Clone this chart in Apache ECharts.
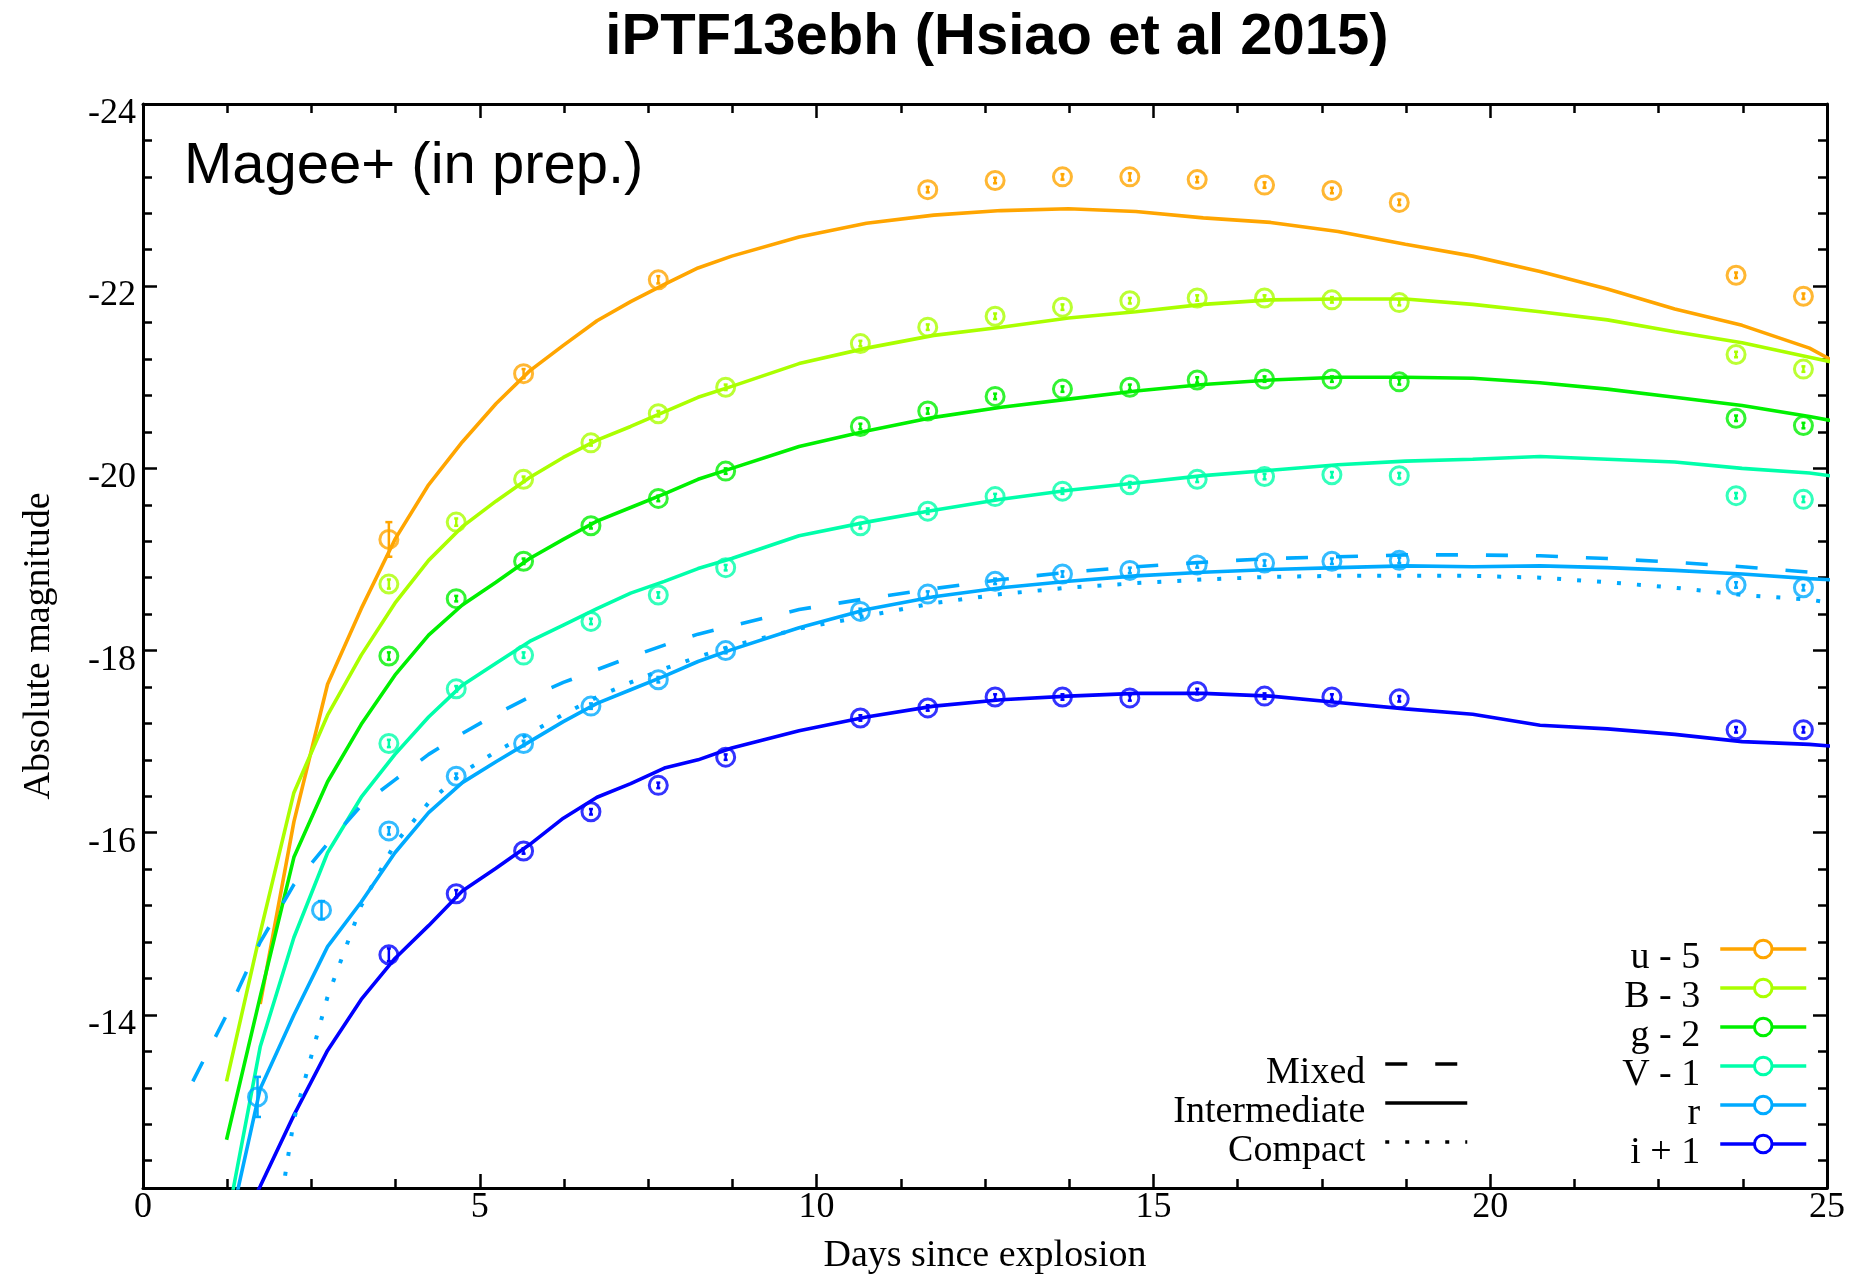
<!DOCTYPE html>
<html>
<head>
<meta charset="utf-8">
<title>iPTF13ebh light curves</title>
<script src="https://cdn.jsdelivr.net/npm/echarts@6/dist/echarts.min.js"></script>
<style>
  html, body { margin: 0; padding: 0; background: #ffffff; }
  #chart { width: 1853px; height: 1280px; }
</style>
</head>
<body>
<div id="chart"></div>
<script>
// ---- Observed photometry (days since explosion, offset absolute magnitudes) ----
const obsDays = [1.7, 2.65, 3.65, 4.65, 5.65, 6.65, 7.65, 8.65, 10.65, 11.65, 12.65, 13.65, 14.65, 15.65, 16.65, 17.65, 18.65, 23.65, 24.65];

const uObs = [null, null, -19.22, null, -21.04, null, -22.07, null, null, -23.06, -23.16, -23.20, -23.20, -23.17, -23.11, -23.05, -22.92, -22.12, -21.89];
const BObs = [null, null, -18.73, -19.41, -19.88, -20.28, -20.60, -20.89, -21.37, -21.55, -21.67, -21.77, -21.84, -21.87, -21.87, -21.85, -21.82, -21.25, -21.09];
const gObs = [null, null, -17.94, -18.57, -18.98, -19.37, -19.67, -19.97, -20.46, -20.63, -20.79, -20.87, -20.89, -20.97, -20.98, -20.98, -20.95, -20.55, -20.47];
const VObs = [null, null, -16.98, -17.58, -17.95, -18.32, -18.61, -18.91, -19.37, -19.53, -19.69, -19.75, -19.82, -19.88, -19.91, -19.93, -19.92, -19.70, -19.66];
const rObs = [-13.10, -15.15, -16.02, -16.62, -16.98, -17.39, -17.68, -18.00, -18.43, -18.62, -18.76, -18.84, -18.88, -18.94, -18.96, -18.98, -18.99, -18.72, -18.69];
const iObs = [null, null, -14.66, -15.33, -15.80, -16.23, -16.52, -16.83, -17.26, -17.37, -17.49, -17.49, -17.48, -17.55, -17.50, -17.49, -17.47, -17.13, -17.13];

// 1-sigma uncertainties for the points above
const uErr = [null, null, 0.19, null, 0.05, null, 0.04, null, null, 0.03, 0.03, 0.03, 0.04, 0.03, 0.03, 0.03, 0.03, 0.03, 0.03];
const BErr = [null, null, 0.05, 0.04, 0.03, 0.03, 0.03, 0.03, 0.03, 0.03, 0.03, 0.03, 0.03, 0.03, 0.03, 0.03, 0.03, 0.03, 0.03];
const gErr = [null, null, 0.04, 0.03, 0.03, 0.03, 0.03, 0.03, 0.03, 0.03, 0.03, 0.03, 0.03, 0.03, 0.03, 0.03, 0.03, 0.03, 0.03];
const VErr = [null, null, 0.04, 0.03, 0.03, 0.03, 0.03, 0.03, 0.03, 0.03, 0.03, 0.03, 0.03, 0.03, 0.03, 0.03, 0.03, 0.03, 0.03];
const rErr = [0.22, 0.10, 0.04, 0.03, 0.03, 0.03, 0.03, 0.03, 0.03, 0.03, 0.03, 0.03, 0.03, 0.03, 0.03, 0.03, 0.03, 0.03, 0.03];
const iErr = [null, null, 0.07, 0.04, 0.03, 0.03, 0.03, 0.03, 0.03, 0.03, 0.03, 0.03, 0.03, 0.03, 0.03, 0.03, 0.03, 0.03, 0.03];

// ---- Model light curves ----
const modelDays = [0.74, 1.24, 1.74, 2.24, 2.74, 3.24, 3.74, 4.24, 4.74, 5.24, 5.74, 6.24, 6.74, 7.24, 7.74, 8.24, 8.74, 9.74, 10.74, 11.74, 12.74, 13.74, 14.74, 15.74, 16.74, 17.74, 18.74, 19.74, 20.74, 21.74, 22.74, 23.74, 24.74, 25.24];

// intermediate Ni distribution, all bands
const uModel = [null, null, -14.12, -16.12, -17.63, -18.46, -19.22, -19.82, -20.29, -20.71, -21.07, -21.35, -21.62, -21.83, -22.02, -22.20, -22.33, -22.54, -22.69, -22.78, -22.83, -22.85, -22.82, -22.75, -22.70, -22.60, -22.46, -22.33, -22.16, -21.97, -21.75, -21.57, -21.32, -21.12];
const BModel = [null, -13.27, -14.90, -16.44, -17.29, -17.95, -18.52, -18.99, -19.36, -19.64, -19.90, -20.12, -20.31, -20.46, -20.62, -20.78, -20.90, -21.15, -21.32, -21.46, -21.55, -21.65, -21.72, -21.80, -21.85, -21.86, -21.86, -21.80, -21.72, -21.63, -21.50, -21.38, -21.22, -21.14];
const gModel = [null, -12.63, -14.20, -15.73, -16.56, -17.19, -17.73, -18.17, -18.50, -18.75, -19.01, -19.22, -19.42, -19.57, -19.72, -19.88, -20.00, -20.24, -20.41, -20.56, -20.67, -20.76, -20.85, -20.92, -20.97, -21.00, -21.00, -20.99, -20.94, -20.87, -20.78, -20.69, -20.57, -20.50];
const VModel = [null, -11.70, -13.65, -14.85, -15.78, -16.39, -16.86, -17.27, -17.62, -17.86, -18.10, -18.28, -18.46, -18.63, -18.76, -18.90, -19.01, -19.26, -19.41, -19.54, -19.66, -19.76, -19.84, -19.92, -19.98, -20.04, -20.08, -20.10, -20.13, -20.10, -20.07, -20.00, -19.95, -19.90];
const rModel = [null, -11.52, -13.19, -14.00, -14.75, -15.24, -15.78, -16.22, -16.55, -16.78, -17.00, -17.22, -17.42, -17.57, -17.72, -17.88, -18.01, -18.25, -18.45, -18.59, -18.69, -18.76, -18.82, -18.86, -18.89, -18.91, -18.93, -18.92, -18.93, -18.91, -18.88, -18.84, -18.79, -18.77];
const iModel = [null, -11.35, -12.12, -12.90, -13.61, -14.17, -14.62, -14.98, -15.36, -15.61, -15.87, -16.16, -16.39, -16.54, -16.71, -16.80, -16.93, -17.12, -17.27, -17.39, -17.46, -17.50, -17.53, -17.53, -17.50, -17.43, -17.36, -17.30, -17.18, -17.14, -17.08, -17.00, -16.97, -16.94];

// r band for the mixed and compact Ni distributions
const rMixed   = [-13.27, -14.00, -14.80, -15.43, -15.88, -16.30, -16.58, -16.86, -17.09, -17.30, -17.49, -17.65, -17.79, -17.93, -18.06, -18.18, -18.27, -18.45, -18.57, -18.68, -18.78, -18.86, -18.92, -18.97, -19.01, -19.03, -19.05, -19.05, -19.04, -19.01, -18.97, -18.92, -18.86, -18.82];
const rCompact = [null, null, -10.50, -12.85, -14.20, -15.20, -15.88, -16.33, -16.66, -16.89, -17.09, -17.30, -17.49, -17.65, -17.80, -17.93, -18.05, -18.24, -18.38, -18.52, -18.62, -18.69, -18.74, -18.78, -18.81, -18.82, -18.82, -18.82, -18.80, -18.75, -18.69, -18.61, -18.56, -18.50];

// ---- Axis ticks ----
const xTickStep = 5;
const yTickStep = 2;
const yMinorStep = 0.4;

// ---- Styling ----
const SERIF = "'Liberation Serif', 'Times New Roman', Times, serif";
const SANS = "'Liberation Sans', Arial, Helvetica, sans-serif";

const bands = [
  { name: 'u - 5', color: '#FFA500', model: uModel, obs: uObs, err: uErr },
  { name: 'B - 3', color: '#AAFF00', model: BModel, obs: BObs, err: BErr },
  { name: 'g - 2', color: '#00F000', model: gModel, obs: gObs, err: gErr },
  { name: 'V - 1', color: '#00FFAA', model: VModel, obs: VObs, err: VErr },
  { name: 'r',     color: '#00AAFF', model: rModel, obs: rObs, err: rErr },
  { name: 'i + 1', color: '#0000FF', model: iModel, obs: iObs, err: iErr }
];
const rColor = '#00AAFF';

function pairs(xs, ys) {
  return xs.map((x, k) => [x, ys[k]]).filter(p => p[1] != null);
}
function triples(xs, ys, es) {
  return xs.map((x, k) => [x, ys[k], es[k]]).filter(p => p[1] != null);
}

// vertical error bar with small end caps
function renderErrorBar(params, api) {
  const x = api.value(0), y = api.value(1), e = api.value(2);
  const a = api.coord([x, y - e]);
  const b = api.coord([x, y + e]);
  const c = api.visual('color');
  const cap = e > 0.08 ? 3.5 : 2;
  const st = { stroke: c, lineWidth: 2.5 };
  return {
    type: 'group',
    children: [
      { type: 'line', shape: { x1: a[0], y1: a[1], x2: b[0], y2: b[1] }, style: st },
      { type: 'line', shape: { x1: a[0] - cap, y1: a[1], x2: a[0] + cap, y2: a[1] }, style: st },
      { type: 'line', shape: { x1: b[0] - cap, y1: b[1], x2: b[0] + cap, y2: b[1] }, style: st }
    ]
  };
}

const series = [];
// model curves first so the legend picks up their line icons
bands.forEach(b => {
  series.push({
    name: b.name, type: 'line', data: pairs(modelDays, b.model),
    symbol: 'circle', showSymbol: false, clip: true, z: 2, silent: true,
    itemStyle: { color: b.color },
    lineStyle: { color: b.color, width: 3.6 }
  });
});
series.push({
  name: 'Mixed', type: 'line', data: pairs(modelDays, rMixed),
  symbol: 'none', showSymbol: false, clip: true, z: 2, silent: true,
  itemStyle: { color: rColor },
  lineStyle: { color: rColor, width: 3.6, type: [22, 28] }
});
series.push({
  name: 'Compact', type: 'line', data: pairs(modelDays, rCompact),
  symbol: 'none', showSymbol: false, clip: true, z: 2, silent: true,
  itemStyle: { color: rColor },
  lineStyle: { color: rColor, width: 4, type: [4, 16] }
});
series.push({
  name: 'Intermediate', type: 'line', data: [],
  symbol: 'none', showSymbol: false, silent: true,
  itemStyle: { color: '#000' },
  lineStyle: { color: '#000', width: 3.5 }
});
bands.forEach(b => {
  series.push({
    name: b.name, type: 'custom', data: triples(obsDays, b.obs, b.err),
    renderItem: renderErrorBar, z: 3, silent: true,
    itemStyle: { color: b.color }
  });
  series.push({
    name: b.name, type: 'scatter', data: pairs(obsDays, b.obs),
    symbol: 'circle', symbolSize: 18, z: 4, silent: true,
    itemStyle: { color: 'rgba(0,0,0,0)', borderColor: b.color, borderWidth: 3 }
  });
});

const axisLineStyle = { show: true, onZero: false, lineStyle: { color: '#000', width: 3 } };
const majorTick = { show: true, inside: true, length: 14, lineStyle: { color: '#000', width: 2.5 } };
const minorTickStyle = { show: true, inside: true, length: 9, lineStyle: { color: '#000', width: 2.5 } };

// rich text so the top padding drops each label slightly below its key
const legendText = {
  fontFamily: SERIF, fontSize: 38, color: '#000',
  lineHeight: 22, padding: [18, 15, 0, 0],
  rich: { t: { fontFamily: SERIF, fontSize: 38, color: '#000', lineHeight: 22 } }
};

const option = {
  animation: false,
  backgroundColor: '#ffffff',
  title: [
    {
      text: 'iPTF13ebh (Hsiao et al 2015)',
      left: 997, top: 9, textAlign: 'center', padding: 0,
      textStyle: { fontFamily: SANS, fontSize: 58, fontWeight: 'bold', color: '#000', lineHeight: 58 }
    },
    {
      text: 'Magee+ (in prep.)',
      left: 184, top: 138, padding: 0,
      textStyle: { fontFamily: SANS, fontSize: 58, fontWeight: 'normal', color: '#000', lineHeight: 58 }
    }
  ],
  grid: { left: 143, right: 26, top: 104, bottom: 85, containLabel: false },
  legend: [
    {
      orient: 'vertical', align: 'right', right: 45, top: 929, padding: 0,
      itemWidth: 86, itemHeight: 22, itemGap: -9,
      formatter: '{t|{name}}',
      data: bands.map(b => ({ name: b.name, itemStyle: { color: '#ffffff', borderColor: b.color, borderWidth: 3 } })),
      textStyle: legendText,
      lineStyle: { width: 3.5 }
    },
    {
      orient: 'vertical', align: 'right', right: 384, top: 1044, padding: 0,
      itemWidth: 82, itemHeight: 22, itemGap: -9,
      formatter: '{t|{name}}',
      data: ['Mixed', 'Intermediate', 'Compact'].map(n => ({ name: n, itemStyle: { opacity: 0 }, lineStyle: { color: '#000' } })),
      textStyle: legendText,
      lineStyle: { width: 3.5 }
    }
  ],
  xAxis: [
    {
      type: 'value', position: 'bottom', min: 0, max: 25, interval: xTickStep,
      axisLine: axisLineStyle, axisTick: majorTick,
      minorTick: Object.assign({ splitNumber: 4 }, minorTickStyle),
      splitLine: { show: false }, minorSplitLine: { show: false },
      axisLabel: { fontFamily: SERIF, fontSize: 36, color: '#000', margin: 2, lineHeight: 36 },
      name: 'Days since explosion', nameLocation: 'middle', nameGap: 49,
      nameTextStyle: { fontFamily: SERIF, fontSize: 38, color: '#000', lineHeight: 38 }
    },
    {
      type: 'value', position: 'top', min: 0, max: 25, interval: xTickStep,
      axisLine: axisLineStyle, axisTick: majorTick,
      minorTick: Object.assign({ splitNumber: 4 }, minorTickStyle),
      splitLine: { show: false }, axisLabel: { show: false }
    }
  ],
  yAxis: [
    {
      type: 'value', position: 'left', inverse: true, min: -24, max: -12.1, interval: yTickStep,
      axisLine: axisLineStyle, axisTick: majorTick, splitLine: { show: false },
      axisLabel: {
        fontFamily: SERIF, fontSize: 36, color: '#000', margin: 7, showMaxLabel: false,
        lineHeight: 19, formatter: v => '\n' + v
      },
      name: 'Absolute magnitude', nameLocation: 'middle', nameGap: 85,
      nameTextStyle: { fontFamily: SERIF, fontSize: 38, color: '#000', lineHeight: 38 }
    },
    {
      type: 'value', position: 'left', inverse: true, min: -24, max: -12.1, interval: yMinorStep,
      axisLine: { show: false, onZero: false }, axisTick: minorTickStyle,
      splitLine: { show: false }, axisLabel: { show: false }
    },
    {
      type: 'value', position: 'right', inverse: true, min: -24, max: -12.1, interval: yTickStep,
      axisLine: axisLineStyle, axisTick: majorTick, splitLine: { show: false },
      axisLabel: { show: false }
    },
    {
      type: 'value', position: 'right', inverse: true, min: -24, max: -12.1, interval: yMinorStep,
      axisLine: { show: false, onZero: false }, axisTick: minorTickStyle,
      splitLine: { show: false }, axisLabel: { show: false }
    }
  ],
  series: series
};

const chart = echarts.init(document.getElementById('chart'), null, { renderer: 'canvas' });
chart.setOption(option);
</script>
</body>
</html>
